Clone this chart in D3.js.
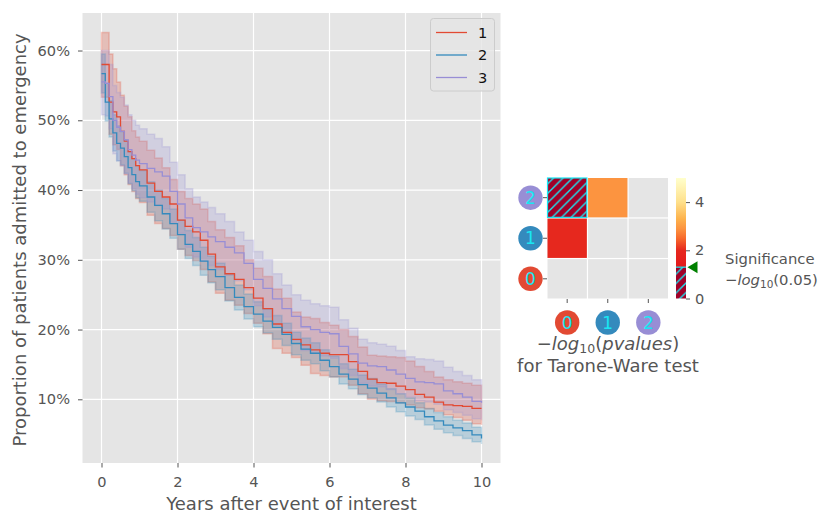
<!DOCTYPE html>
<html>
<head>
<meta charset="utf-8">
<script src="https://cdn.jsdelivr.net/npm/d3@7"></script>
<style>
  body { margin: 0; background: #fff; }
  svg { display: block; font-family: "DejaVu Sans", sans-serif; }
</style>
</head>
<body>
<svg id="chart" width="831" height="528"></svg>
<script>
// ---- data (percent) ----
var times = [0, 0.1, 0.2, 0.3, 0.4, 0.5, 0.6, 0.7, 0.8, 0.9, 1.0, 1.2, 1.4, 1.6, 1.8, 2.0,
  2.2, 2.4, 2.6, 2.8, 3.0, 3.25, 3.5, 3.75, 4.0, 4.25, 4.5, 4.75, 5.0, 5.25, 5.5, 5.75,
  6.0, 6.25, 6.5, 6.75, 7.0, 7.25, 7.5, 7.75, 8.0, 8.25, 8.5, 8.75, 9.0, 9.25, 9.5, 9.75, 10];

var groups = ["1", "2", "3"];

var est1 = [58.0, 58.0, 52.6, 51.2, 50.5, 48.4, 47.0, 45.5, 44.5, 43.5, 42.9, 41.0, 39.8, 39.0, 38.0, 35.7,
  34.8, 34.0, 32.8, 30.8, 29.0, 28.0, 27.2, 26.0, 24.5, 23.0, 20.8, 19.6, 18.6, 17.8, 17.1, 16.6,
  16.4, 16.4, 15.4, 14.0, 12.9, 12.4, 12.3, 11.9, 11.4, 10.7, 10.3, 9.6, 9.2, 9.1, 9.0, 8.7, 8.7];
var lo1 = [53.3, 53.3, 48.0, 46.5, 45.8, 43.5, 42.2, 40.8, 39.8, 38.8, 38.2, 36.4, 35.2, 34.5, 33.5, 31.5,
  30.6, 29.9, 28.6, 26.8, 25.2, 24.2, 23.5, 22.3, 20.9, 19.4, 17.3, 16.6, 16.0, 14.9, 13.7, 13.4,
  13.2, 13.2, 12.0, 10.8, 10.0, 9.8, 9.7, 9.5, 9.2, 8.8, 8.6, 8.3, 7.8, 7.4, 7.0, 6.5, 6.3];
var hi1 = [62.6, 62.6, 59.5, 57.4, 55.5, 53.6, 52.0, 50.5, 48.5, 47.6, 47.0, 45.7, 44.6, 43.2, 41.5, 39.8,
  38.8, 38.0, 37.3, 35.5, 34.3, 33.2, 32.0, 30.0, 28.8, 27.6, 25.8, 24.5, 22.5, 21.8, 21.6, 21.0,
  20.6, 20.0, 19.0, 17.5, 16.3, 16.2, 16.1, 16.0, 15.5, 14.7, 14.0, 13.2, 12.8, 12.5, 12.3, 12.0, 11.8];

var est2 = [56.7, 52.6, 50.2, 48.2, 46.7, 46.0, 44.8, 43.2, 42.2, 41.2, 40.6, 39.0, 37.8, 36.6, 35.2, 33.6,
  32.2, 31.2, 29.8, 28.6, 27.6, 26.0, 24.6, 23.3, 22.2, 21.2, 20.3, 19.3, 18.0, 17.2, 16.6, 15.6,
  14.7, 13.6, 12.9, 12.1, 11.6, 10.9, 10.2, 9.5, 8.9, 8.3, 7.5, 6.9, 6.3, 5.9, 5.5, 4.9, 4.4];
var lo2 = [53.9, 49.9, 47.6, 45.6, 44.2, 43.6, 42.4, 40.9, 39.9, 38.9, 38.4, 36.8, 35.6, 34.4, 33.1, 31.5,
  30.2, 29.2, 27.8, 26.7, 25.7, 24.1, 22.8, 21.5, 20.4, 19.5, 18.6, 17.7, 16.4, 15.6, 15.1, 14.1,
  13.2, 12.2, 11.5, 10.7, 10.2, 9.6, 8.9, 8.2, 7.6, 7.1, 6.3, 5.7, 5.2, 4.8, 4.4, 3.9, 3.6];
var hi2 = [59.5, 55.3, 52.8, 50.8, 49.2, 48.4, 47.2, 45.5, 44.5, 43.5, 42.8, 41.2, 40.0, 38.8, 37.3, 35.7,
  34.2, 33.2, 31.8, 30.5, 29.5, 27.9, 26.4, 25.1, 24.0, 22.9, 22.0, 20.9, 19.6, 18.8, 18.1, 17.1,
  16.2, 15.1, 14.3, 13.5, 13.0, 12.2, 11.5, 10.8, 10.2, 9.5, 8.7, 8.1, 7.5, 7.0, 6.6, 6.0, 5.6];

var est3 = [55.5, 55.3, 53.4, 50.0, 49.0, 48.4, 47.2, 45.8, 45.0, 44.3, 43.8, 43.1, 42.6, 42.0, 39.8, 38.0,
  36.0, 34.6, 34.0, 33.3, 32.6, 31.8, 31.0, 29.5, 27.2, 25.9, 24.4, 23.0, 21.9, 20.4, 20.0, 19.6,
  19.4, 17.6, 16.5, 15.2, 14.8, 14.7, 14.2, 13.6, 13.0, 12.5, 12.4, 12.2, 11.2, 10.8, 10.3, 9.7, 9.5];
var lo3 = [50.8, 50.6, 48.8, 45.2, 44.2, 43.5, 42.3, 41.0, 40.2, 39.4, 38.9, 38.3, 37.8, 37.3, 35.4, 33.8,
  31.8, 30.4, 29.8, 29.2, 28.6, 27.8, 27.0, 25.7, 23.4, 21.8, 20.6, 19.5, 18.4, 17.0, 16.6, 16.2,
  15.9, 14.4, 13.4, 12.3, 11.9, 11.8, 11.4, 10.8, 10.3, 9.8, 9.6, 9.3, 8.5, 8.1, 7.7, 7.2, 7.0];
var hi3 = [60.0, 60.0, 58.0, 55.0, 54.0, 53.3, 52.2, 50.8, 50.0, 49.3, 48.8, 48.0, 47.4, 46.2, 44.0, 42.2,
  40.2, 39.0, 38.3, 37.5, 36.6, 35.5, 34.0, 32.8, 31.2, 30.0, 28.0, 26.4, 25.0, 24.2, 23.7, 23.4,
  23.2, 21.4, 20.2, 18.6, 18.1, 17.9, 17.6, 17.0, 16.1, 15.8, 15.7, 15.5, 14.6, 14.0, 13.4, 12.8, 12.5];

var xTicks = [0, 2, 4, 6, 8, 10];
var yTicks = [0.1, 0.2, 0.3, 0.4, 0.5, 0.6];

// pairwise -log10(p) for the Tarone-Ware test, [row group, column group, value]
var pairLabels = ["0", "1", "2"];
var pairValues = [[1, 0, 2.0], [2, 0, 0.8], [2, 1, 2.9]];
var threshold = -Math.log10(0.05);
var cbarTicks = [0, 2, 4];
var cbarStops = [1.3, 2.0, 2.5, 2.9, 3.3, 4.0, 4.6, 5.0];
var cbarColors = ["#e31a1c", "#e6281e", "#f86a2c", "#fc9440", "#fdb24c", "#fee08b", "#fff3b3", "#ffffcc"];

(function(){
  var colors = ["#E24A33", "#348ABD", "#988ED5"];
  var cyan = "#19e6f2";
  var series = [
    {name: groups[0], est: est1, lo: lo1, hi: hi1, color: colors[0]},
    {name: groups[1], est: est2, lo: lo2, hi: hi2, color: colors[1]},
    {name: groups[2], est: est3, lo: lo3, hi: hi3, color: colors[2]}
  ];

  var svg = d3.select("#chart");
  var mLeft = 82.5, mRight = 500.5, mTop = 13, mBottom = 463;

  var x = d3.scaleLinear().domain([-0.5, 10.5]).range([mLeft, mRight]);
  var y = d3.scaleLinear().domain([0.0087, 0.6538]).range([mBottom, mTop]);

  svg.append("rect")
    .attr("x", mLeft).attr("y", mTop)
    .attr("width", mRight - mLeft).attr("height", mBottom - mTop)
    .attr("fill", "#E5E5E5");

  // grid
  var grid = svg.append("g");
  grid.selectAll("line.gx").data(xTicks).enter().append("line")
    .attr("x1", function(d){ return x(d); }).attr("x2", function(d){ return x(d); })
    .attr("y1", mTop).attr("y2", mBottom)
    .attr("stroke", "#fff").attr("stroke-width", 1.2);
  grid.selectAll("line.gy").data(yTicks).enter().append("line")
    .attr("y1", function(d){ return y(d); }).attr("y2", function(d){ return y(d); })
    .attr("x1", mLeft).attr("x2", mRight)
    .attr("stroke", "#fff").attr("stroke-width", 1.2);

  // axes
  var xAxis = svg.append("g")
    .attr("transform", "translate(0," + mBottom + ")")
    .call(d3.axisBottom(x).tickValues(xTicks).tickSize(4.5).tickPadding(9).tickFormat(d3.format("d")));
  var yAxis = svg.append("g")
    .attr("transform", "translate(" + mLeft + ",0)")
    .call(d3.axisLeft(y).tickValues(yTicks).tickSize(4.5).tickPadding(8).tickFormat(d3.format(".0%")));
  [xAxis, yAxis].forEach(function(a){
    a.attr("font-size", 14.6).attr("font-family", "DejaVu Sans");
    a.select(".domain").remove();
    a.selectAll(".tick line").attr("stroke", "#555").attr("stroke-width", 1);
    a.selectAll(".tick text").attr("fill", "#555");
  });

  svg.append("text")
    .attr("x", (mLeft + mRight) / 2).attr("y", 509.5)
    .attr("text-anchor", "middle").attr("font-size", 18).attr("fill", "#555")
    .text("Years after event of interest");
  svg.append("text")
    .attr("transform", "translate(25.5,240) rotate(-90)")
    .attr("text-anchor", "middle").attr("font-size", 18).attr("fill", "#555")
    .text("Proportion of patients admitted to emergency");

  // bands and lines
  var area = d3.area()
    .curve(d3.curveStepAfter)
    .x(function(d){ return x(d[0]); })
    .y0(function(d){ return y(d[1] / 100); })
    .y1(function(d){ return y(d[2] / 100); });
  var line = d3.line()
    .curve(d3.curveStepAfter)
    .x(function(d){ return x(d[0]); })
    .y(function(d){ return y(d[1] / 100); });

  var plot = svg.append("g");
  series.forEach(function(s){
    var pts = times.map(function(t, i){ return [t, s.lo[i], s.hi[i]]; });
    plot.append("path")
      .attr("d", area(pts))
      .attr("fill", s.color).attr("fill-opacity", 0.25)
      .attr("stroke", s.color).attr("stroke-opacity", 0.25).attr("stroke-width", 1.5);
  });
  series.forEach(function(s){
    var pts = times.map(function(t, i){ return [t, s.est[i]]; });
    plot.append("path")
      .attr("d", line(pts))
      .attr("fill", "none")
      .attr("stroke", s.color).attr("stroke-width", 1.3);
  });

  // legend
  var legend = svg.append("g");
  legend.append("rect")
    .attr("x", 430.5).attr("y", 18.5).attr("width", 64).attr("height", 72.5).attr("rx", 3)
    .attr("fill", "#E5E5E5").attr("fill-opacity", 0.8)
    .attr("stroke", "#cccccc").attr("stroke-width", 1);
  series.forEach(function(s, i){
    var ly = 32.5 + i * 22.5;
    legend.append("line")
      .attr("x1", 436).attr("x2", 467).attr("y1", ly).attr("y2", ly)
      .attr("stroke", s.color).attr("stroke-width", 1.3);
    legend.append("text")
      .attr("x", 478).attr("y", ly).attr("dy", "0.36em")
      .attr("font-size", 14.6).attr("fill", "#111")
      .text(s.name);
  });

  // ---- pairwise heatmap ----
  var defs = svg.append("defs");
  var hatch = defs.append("pattern")
    .attr("id", "hatch").attr("patternUnits", "userSpaceOnUse")
    .attr("width", 9.5).attr("height", 9.5);
  hatch.append("rect").attr("width", 9.5).attr("height", 9.5).attr("fill", "#a00028");
  hatch.append("path")
    .attr("d", "M0,9.5 L9.5,0 M-2,2 L2,-2 M7.5,11.5 L11.5,7.5")
    .attr("stroke", cyan).attr("stroke-width", 1.4);

  var hx = d3.scaleBand().domain(pairLabels).range([547.5, 668]).paddingInner(0.03);
  var hy = d3.scaleBand().domain(pairLabels.slice().reverse()).range([178, 298.5]).paddingInner(0.03);
  var cscale = d3.scaleLinear().domain(cbarStops).range(cbarColors).clamp(true);

  var heat = svg.append("g");
  pairLabels.forEach(function(r){
    pairLabels.forEach(function(c){
      heat.append("rect")
        .attr("x", hx(c)).attr("y", hy(r))
        .attr("width", hx.bandwidth()).attr("height", hy.bandwidth())
        .attr("fill", "#E5E5E5");
    });
  });
  pairValues.forEach(function(p){
    var r = pairLabels[p[0]], c = pairLabels[p[1]], v = p[2];
    var cell = heat.append("rect")
      .attr("x", hx(c)).attr("y", hy(r))
      .attr("width", hx.bandwidth()).attr("height", hy.bandwidth());
    if(v < threshold){
      cell.attr("fill", "url(#hatch)").attr("stroke", cyan).attr("stroke-width", 1.2);
    } else {
      cell.attr("fill", cscale(v));
    }
  });

  // circled group labels on both axes
  function circleLabel(cx, cy, i){
    heat.append("circle").attr("cx", cx).attr("cy", cy).attr("r", 12.2).attr("fill", colors[i]);
    heat.append("text")
      .attr("x", cx).attr("y", cy).attr("dy", "0.36em")
      .attr("text-anchor", "middle").attr("font-size", 17).attr("fill", cyan)
      .text(pairLabels[i]);
  }
  pairLabels.forEach(function(l, i){
    var cy = hy(l) + hy.bandwidth() / 2;
    heat.append("line").attr("x1", 543).attr("x2", 547).attr("y1", cy).attr("y2", cy)
      .attr("stroke", "#555");
    circleLabel(530.5, cy, i);
    var cx = hx(l) + hx.bandwidth() / 2;
    heat.append("line").attr("x1", cx).attr("x2", cx).attr("y1", 299).attr("y2", 303)
      .attr("stroke", "#555");
    circleLabel(cx, 322.5, i);
  });

  // heatmap title (math text)
  var t1 = svg.append("text")
    .attr("x", 608).attr("y", 349.5).attr("text-anchor", "middle")
    .attr("font-size", 18).attr("fill", "#555");
  t1.append("tspan").text("\u2212");
  t1.append("tspan").attr("font-style", "italic").text("log");
  t1.append("tspan").attr("font-size", 12.5).attr("dy", 3.5).text("10");
  t1.append("tspan").attr("dy", -3.5).text("(");
  t1.append("tspan").attr("font-style", "italic").text("pvalues");
  t1.append("tspan").text(")");
  svg.append("text")
    .attr("x", 608).attr("y", 372).attr("text-anchor", "middle")
    .attr("font-size", 18).attr("fill", "#555")
    .text("for Tarone-Ware test");

  // colorbar
  var cb = d3.scaleLinear().domain([0, 5]).range([298.5, 178]);
  var grad = defs.append("linearGradient")
    .attr("id", "cbgrad").attr("x1", 0).attr("x2", 0).attr("y1", 1).attr("y2", 0);
  cbarStops.forEach(function(s, i){
    grad.append("stop")
      .attr("offset", (s - threshold) / (5 - threshold))
      .attr("stop-color", cbarColors[i]);
  });
  svg.append("rect")
    .attr("x", 676).attr("y", cb(5)).attr("width", 10).attr("height", cb(threshold) - cb(5))
    .attr("fill", "url(#cbgrad)");
  svg.append("rect")
    .attr("x", 676).attr("y", cb(threshold)).attr("width", 10).attr("height", cb(0) - cb(threshold))
    .attr("fill", "url(#hatch)");
  svg.append("line")
    .attr("x1", 676).attr("x2", 686).attr("y1", cb(threshold)).attr("y2", cb(threshold))
    .attr("stroke", cyan).attr("stroke-width", 1.2);
  var cbAxis = svg.append("g")
    .attr("transform", "translate(686,0)")
    .call(d3.axisRight(cb).tickValues(cbarTicks).tickSize(4).tickPadding(5).tickFormat(d3.format("d")));
  cbAxis.attr("font-size", 14.6).attr("font-family", "DejaVu Sans");
  cbAxis.select(".domain").remove();
  cbAxis.selectAll(".tick line").attr("stroke", "#555");
  cbAxis.selectAll(".tick text").attr("fill", "#555");

  // significance marker
  var ty = cb(threshold);
  svg.append("path")
    .attr("d", "M687.5," + ty + " L697.5," + (ty - 6) + " L697.5," + (ty + 6) + " Z")
    .attr("fill", "#008000");
  svg.append("text")
    .attr("x", 725).attr("y", 264).attr("font-size", 14.8).attr("fill", "#555")
    .text("Significance");
  var t2 = svg.append("text")
    .attr("x", 725).attr("y", 285).attr("font-size", 14.8).attr("fill", "#555");
  t2.append("tspan").text("\u2212");
  t2.append("tspan").attr("font-style", "italic").text("log");
  t2.append("tspan").attr("font-size", 10.5).attr("dy", 3).text("10");
  t2.append("tspan").attr("dy", -3).text("(0.05)");
})();
</script>
</body>
</html>
